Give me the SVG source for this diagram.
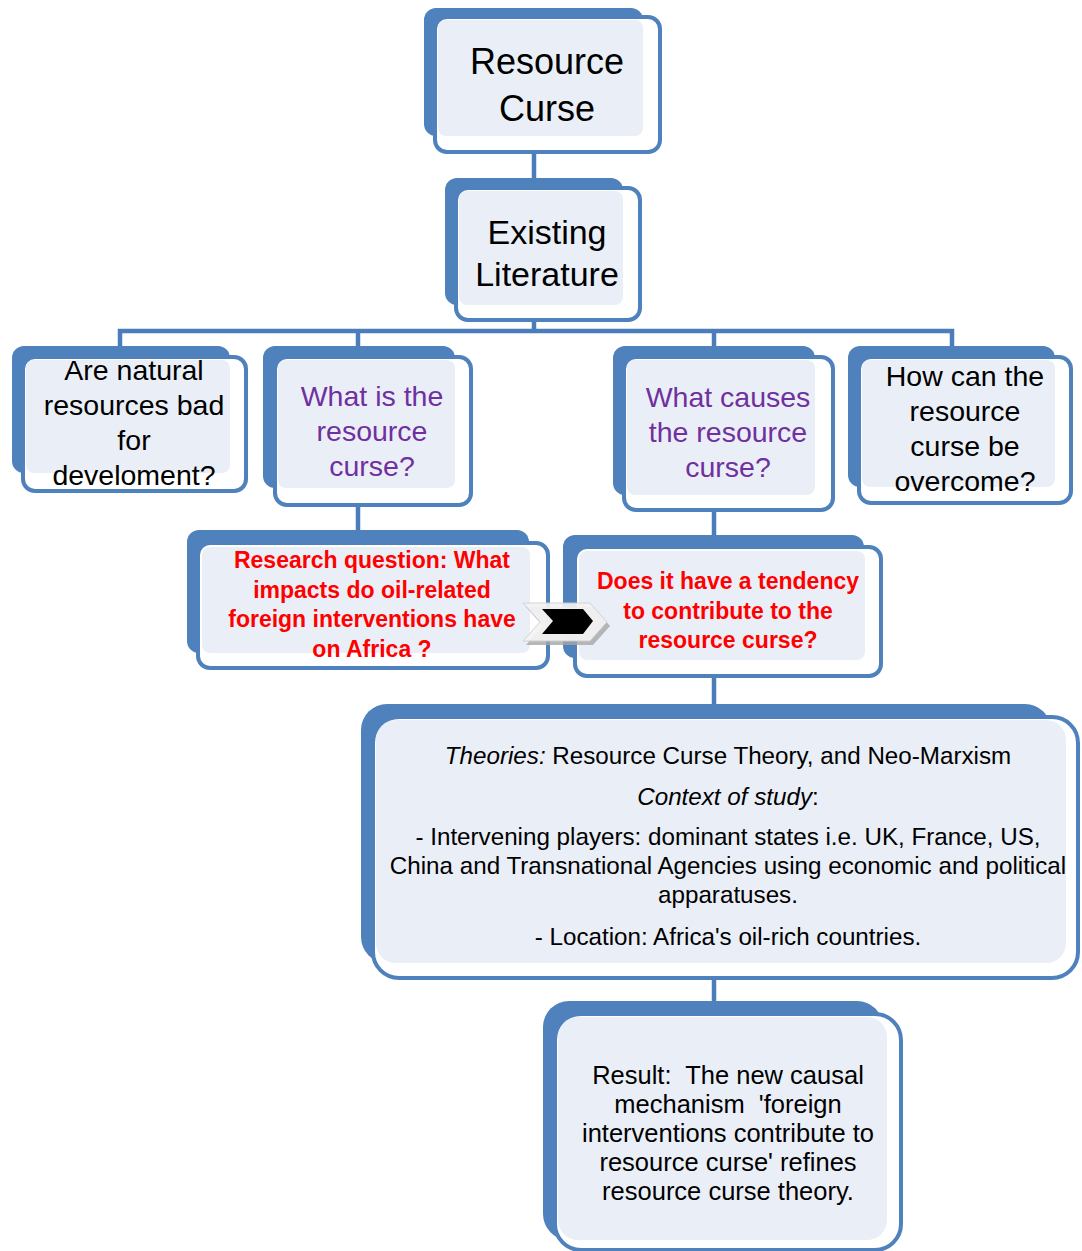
<svg xmlns="http://www.w3.org/2000/svg" width="1082" height="1251" viewBox="0 0 1082 1251">
<style>
.back{fill:#4F81BD}
.front{fill:#FFFFFF;stroke:#4F81BD;stroke-width:4}
.inner{fill:#EAEFF7}
.conn{stroke:#4A7DBA;stroke-width:4.5;fill:none}
text{font-family:"Liberation Sans",Arial,sans-serif;text-anchor:middle;fill:#000}
.t1{font-size:36px}
.t2{font-size:34px}
.t3{font-size:28.5px}
.purple{fill:#7030A0}
.red{fill:#FF0000;font-weight:bold;font-size:23px}
.t9{font-size:24.2px}
.t10{font-size:25.5px}
.pre{white-space:pre}
</style>
<rect width="1082" height="1251" fill="#FFFFFF"/>
<g id="connectors">
<line class="conn" x1="534" y1="152" x2="534" y2="180"/>
<line class="conn" x1="534" y1="320" x2="534" y2="331"/>
<path class="conn" d="M120,347 V331 H952 V347"/>
<line class="conn" x1="358" y1="331" x2="358" y2="347"/>
<line class="conn" x1="714" y1="331" x2="714" y2="347"/>
<line class="conn" x1="358" y1="505" x2="358" y2="532"/>
<line class="conn" x1="714" y1="510" x2="714" y2="537"/>
<line class="conn" x1="714" y1="676" x2="714" y2="706"/>
<line class="conn" x1="714" y1="978" x2="714" y2="1003"/>
</g>
<g id="n1">
<rect class="back" x="424" y="8" width="219" height="128" rx="12"/>
<rect class="front" x="435" y="17" width="225" height="135" rx="12"/>
<rect class="inner" x="438" y="20" width="205" height="116" rx="8"/>
<text class="t1" x="547" y="74">Resource</text>
<text class="t1" x="547" y="121">Curse</text>
</g>
<g id="n2">
<rect class="back" x="445" y="178" width="178" height="127" rx="12"/>
<rect class="front" x="456" y="188" width="184" height="132" rx="12"/>
<rect class="inner" x="459" y="191" width="164" height="114" rx="8"/>
<text class="t2" x="547" y="244">Existing</text>
<text class="t2" x="547" y="286">Literature</text>
</g>
<g id="n3">
<rect class="back" x="12" y="346" width="218" height="127" rx="12"/>
<rect class="front" x="23" y="357" width="223" height="134" rx="12"/>
<rect class="inner" x="26" y="360" width="204" height="113" rx="8"/>
<text class="t3" x="134" y="380">Are natural</text>
<text class="t3" x="134" y="415">resources bad</text>
<text class="t3" x="134" y="450">for</text>
<text class="t3" x="134" y="485">develoment?</text>
</g>
<g id="n4">
<rect class="back" x="263" y="346" width="192" height="142" rx="12"/>
<rect class="front" x="275" y="357" width="196" height="148" rx="12"/>
<rect class="inner" x="278" y="360" width="177" height="128" rx="8"/>
<text class="t3 purple" x="372" y="406">What is the</text>
<text class="t3 purple" x="372" y="441">resource</text>
<text class="t3 purple" x="372" y="476">curse?</text>
</g>
<g id="n5">
<rect class="back" x="613" y="346" width="202" height="149" rx="12"/>
<rect class="front" x="624" y="357" width="209" height="153" rx="12"/>
<rect class="inner" x="627" y="360" width="188" height="135" rx="8"/>
<text class="t3 purple" x="728" y="407">What causes</text>
<text class="t3 purple" x="728" y="442">the resource</text>
<text class="t3 purple" x="728" y="477">curse?</text>
</g>
<g id="n6">
<rect class="back" x="848" y="346" width="207" height="141" rx="12"/>
<rect class="front" x="859" y="357" width="212" height="146" rx="12"/>
<rect class="inner" x="862" y="360" width="193" height="127" rx="8"/>
<text class="t3" x="965" y="386">How can the</text>
<text class="t3" x="965" y="421">resource</text>
<text class="t3" x="965" y="456">curse be</text>
<text class="t3" x="965" y="491">overcome?</text>
</g>
<g id="n7">
<rect class="back" x="187" y="530" width="342" height="123" rx="12"/>
<rect class="front" x="198" y="543" width="350" height="125" rx="12"/>
<rect class="inner" x="202" y="547" width="328" height="106" rx="8"/>
<text class="red" x="372" y="568">Research question: What</text>
<text class="red" x="372" y="598">impacts do oil-related</text>
<text class="red" x="372" y="627">foreign interventions have</text>
<text class="red" x="372" y="657">on Africa ?</text>
</g>
<g id="n8">
<rect class="back" x="563" y="535" width="301" height="123" rx="12"/>
<rect class="front" x="575" y="547" width="306" height="129" rx="12"/>
<rect class="inner" x="579" y="551" width="286" height="109" rx="8"/>
<text class="red" x="728" y="589">Does it have a tendency</text>
<text class="red" x="728" y="619">to contribute to the</text>
<text class="red" x="728" y="648">resource curse?</text>
</g>
<g id="arrow">
<polygon points="526,607 593,607 610,626 593,645 526,645 543,626" fill="#A6A6A6" opacity="0.8"/>
<polygon points="523,603 590,603 607,622 590,641 523,641 540,622" fill="#F4F4F4" stroke="#D0D0D0" stroke-width="1" opacity="0.92"/>
<polygon points="542,609 583,609 593,621 583,634 542,634 553,621" fill="#000000"/>
</g>
<g id="n9">
<rect class="back" x="361" y="704" width="690" height="259" rx="26"/>
<rect class="front" x="373" y="717" width="705" height="261" rx="26"/>
<rect class="inner" x="376" y="720" width="690" height="243" rx="20"/>
<text class="t9" x="728" y="764"><tspan font-style="italic">Theories:</tspan> Resource Curse Theory, and Neo-Marxism</text>
<text class="t9" x="728" y="805"><tspan font-style="italic">Context of study</tspan>:</text>
<text class="t9" x="728" y="845">- Intervening players: dominant states i.e. UK, France, US,</text>
<text class="t9" x="728" y="874">China and Transnational Agencies using economic and political</text>
<text class="t9" x="728" y="903">apparatuses.</text>
<text class="t9" x="728" y="945">- Location: Africa's oil-rich countries.</text>
</g>
<g id="n10">
<rect class="back" x="543" y="1001" width="340" height="239" rx="26"/>
<rect class="front" x="555" y="1014" width="346" height="236" rx="26"/>
<rect class="inner" x="558" y="1017" width="329" height="223" rx="20"/>
<text class="t10 pre" x="728" y="1084">Result:  The new causal</text>
<text class="t10 pre" x="728" y="1113">mechanism  'foreign</text>
<text class="t10" x="728" y="1142">interventions contribute to</text>
<text class="t10" x="728" y="1171">resource curse' refines</text>
<text class="t10" x="728" y="1200">resource curse theory.</text>
</g>
</svg>
